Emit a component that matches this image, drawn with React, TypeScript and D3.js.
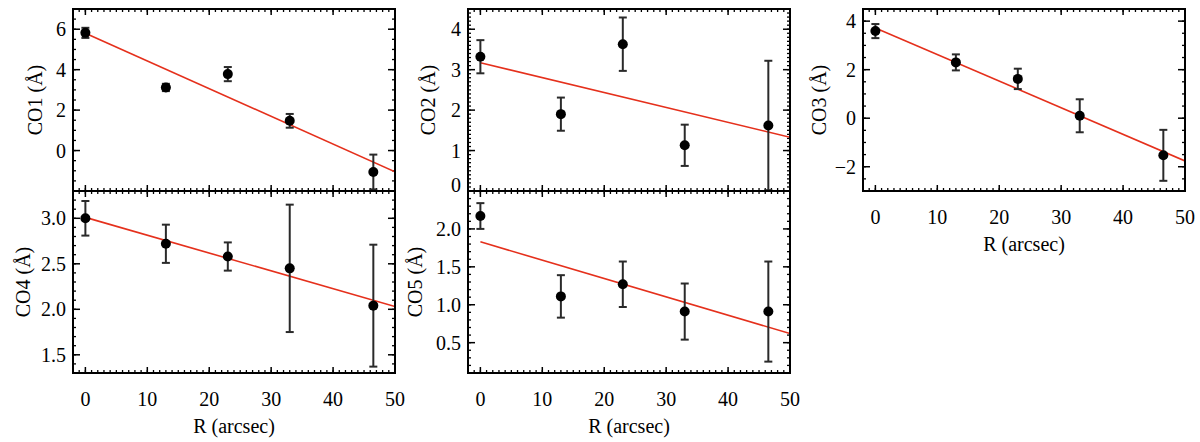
import * as d3 from "d3";

// radius of each aperture (arcsec)
const radius = [0, 13, 23, 33, 46.5];
const xMajor = [0, 10, 20, 30, 40, 50];

const co1 = [5.82, 3.12, 3.78, 1.47, -1.06];
const co1Err = [0.25, 0.18, 0.35, 0.34, 0.86];
const co1Fit = [5.8, -1.05]; // fit at R=0 and R=50
const co1Labels = [0, 2, 4, 6];

const co2 = [3.32, 1.9, 3.63, 1.13, 1.62];
const co2Err = [0.41, 0.41, 0.66, 0.51, 1.6];
const co2Fit = [3.17, 1.33];
const co2Labels = [0, 1, 2, 3, 4];

const co3 = [3.59, 2.3, 1.62, 0.1, -1.53];
const co3Err = [0.29, 0.33, 0.42, 0.68, 1.05];
const co3Fit = [3.72, -1.76];
const co3Labels = [-2, 0, 2, 4];

const co4 = [3.0, 2.72, 2.58, 2.45, 2.04];
const co4Err = [0.19, 0.21, 0.155, 0.7, 0.67];
const co4Fit = [3.01, 2.03];
const co4Labels = [1.5, 2.0, 2.5, 3.0];

const co5 = [2.17, 1.11, 1.27, 0.91, 0.91];
const co5Err = [0.17, 0.28, 0.3, 0.37, 0.66];
const co5Fit = [1.83, 0.62];
const co5Labels = [0.5, 1.0, 1.5, 2.0];

const TXT = { fontFamily: "Liberation Serif", fontSize: 20 };
const RED = "#e5301c";

interface PanelProps {
  id: string;
  left: number; top: number; width: number; height: number;
  yDomain: [number, number];
  yMajor: number; yMinor: number;
  labels: number[]; decimals: number;
  values: number[]; errs: number[]; fit: number[];
  title: string; titleX: number;
  xLabels: boolean;
}

function stepRange(lo: number, hi: number, step: number) {
  const out: number[] = [];
  const start = Math.ceil(lo / step - 1e-9);
  const end = Math.floor(hi / step + 1e-9);
  for (let i = start; i <= end; i++) out.push(+(i * step).toFixed(6));
  return out;
}

function Panel(p: PanelProps) {
  const x = d3.scaleLinear().domain([-2, 50]).range([p.left, p.left + p.width]);
  const y = d3.scaleLinear().domain(p.yDomain).range([p.top + p.height, p.top]);
  const right = p.left + p.width, bottom = p.top + p.height;
  const xMinor = stepRange(-2, 50, 1);
  const yMaj = stepRange(p.yDomain[0], p.yDomain[1], p.yMajor);
  const yMin = stepRange(p.yDomain[0], p.yDomain[1], p.yMinor);
  const fmt = d3.format(`.${p.decimals}f`);
  const line = d3.line<number>().x((_, i) => x(i === 0 ? 0 : 50)).y(d => y(d));
  const tk = "#000";
  return (
    <g>
      <defs>
        <clipPath id={`clip-${p.id}`}>
          <rect x={p.left} y={p.top} width={p.width} height={p.height} />
        </clipPath>
      </defs>
      {/* x ticks top & bottom */}
      {xMinor.map(v => (
        <g key={`xm${v}`} stroke={tk} strokeWidth={1.3}>
          <line x1={x(v)} x2={x(v)} y1={bottom} y2={bottom - 3} />
          <line x1={x(v)} x2={x(v)} y1={p.top} y2={p.top + 3} />
        </g>
      ))}
      {xMajor.map(v => (
        <g key={`xM${v}`} stroke={tk} strokeWidth={1.5}>
          <line x1={x(v)} x2={x(v)} y1={bottom} y2={bottom - 6} />
          <line x1={x(v)} x2={x(v)} y1={p.top} y2={p.top + 6} />
        </g>
      ))}
      {/* y ticks left & right */}
      {yMin.map(v => (
        <g key={`ym${v}`} stroke={tk} strokeWidth={1.3}>
          <line x1={p.left} x2={p.left + 3} y1={y(v)} y2={y(v)} />
          <line x1={right} x2={right - 3} y1={y(v)} y2={y(v)} />
        </g>
      ))}
      {yMaj.map(v => (
        <g key={`yM${v}`} stroke={tk} strokeWidth={1.5}>
          <line x1={p.left} x2={p.left + 7} y1={y(v)} y2={y(v)} />
          <line x1={right} x2={right - 7} y1={y(v)} y2={y(v)} />
        </g>
      ))}
      {p.labels.map(v => (
        <text key={`yl${v}`} x={p.left - 7} y={Math.min(y(v), bottom - 6)} dy="0.35em"
          textAnchor="end" style={TXT}>{fmt(v)}</text>
      ))}
      <text transform={`translate(${p.titleX},${(p.top + bottom) / 2}) rotate(-90)`}
        textAnchor="middle" dy="0.35em" style={TXT}>{p.title}</text>
      {p.xLabels && (
        <g>
          {xMajor.map(v => (
            <text key={`xl${v}`} x={x(v)} y={bottom + 26} dy="0.35em" textAnchor="middle"
              style={TXT}>{v}</text>
          ))}
          <text x={(p.left + right) / 2} y={bottom + 53} dy="0.35em" textAnchor="middle"
            style={TXT}>R (arcsec)</text>
        </g>
      )}
      <g clipPath={`url(#clip-${p.id})`}>
        <path d={line(p.fit) ?? ""} fill="none" stroke={RED} strokeWidth={1.6} />
        {radius.map((r, i) => {
          const cx = x(r), hi = y(p.values[i] + p.errs[i]), lo = y(p.values[i] - p.errs[i]);
          return (
            <g key={`pt${i}`}>
              <g stroke="#2a2a2a" strokeWidth={2}>
                <line x1={cx} x2={cx} y1={hi} y2={lo} />
                <line x1={cx - 4} x2={cx + 4} y1={hi} y2={hi} />
                <line x1={cx - 4} x2={cx + 4} y1={lo} y2={lo} />
              </g>
              <circle cx={cx} cy={y(p.values[i])} r={5} fill="#000" />
            </g>
          );
        })}
      </g>
      <rect x={p.left} y={p.top} width={p.width} height={p.height} fill="none" stroke="#000" strokeWidth={2} />
    </g>
  );
}

export default function App() {
  const colL = 73, colM = 468, colR = 863, w = 322;
  const top1 = 9, h = 182, top2 = 191;
  return (
    <svg width={1200} height={442} style={{ position: "absolute", left: 0, top: 0, background: "#fff" }}>
      <Panel id="co1" left={colL} top={top1} width={w} height={h} yDomain={[-2, 7]} yMajor={2} yMinor={0.5}
        labels={co1Labels} decimals={0} values={co1} errs={co1Err} fit={co1Fit} title="CO1 (Å)" titleX={35} xLabels={false} />
      <Panel id="co4" left={colL} top={top2} width={w} height={h} yDomain={[1.3, 3.3]} yMajor={0.5} yMinor={0.1}
        labels={co4Labels} decimals={1} values={co4} errs={co4Err} fit={co4Fit} title="CO4 (Å)" titleX={23} xLabels={true} />
      <Panel id="co2" left={colM} top={top1} width={w} height={h} yDomain={[0, 4.5]} yMajor={1} yMinor={0.1}
        labels={co2Labels} decimals={0} values={co2} errs={co2Err} fit={co2Fit} title="CO2 (Å)" titleX={428} xLabels={false} />
      <Panel id="co5" left={colM} top={top2} width={w} height={h} yDomain={[0.1, 2.5]} yMajor={0.5} yMinor={0.1}
        labels={co5Labels} decimals={1} values={co5} errs={co5Err} fit={co5Fit} title="CO5 (Å)" titleX={415} xLabels={true} />
      <Panel id="co3" left={colR} top={top1} width={w} height={h} yDomain={[-3, 4.5]} yMajor={2} yMinor={0.5}
        labels={co3Labels} decimals={0} values={co3} errs={co3Err} fit={co3Fit} title="CO3 (Å)" titleX={819} xLabels={true} />
    </svg>
  );
}
